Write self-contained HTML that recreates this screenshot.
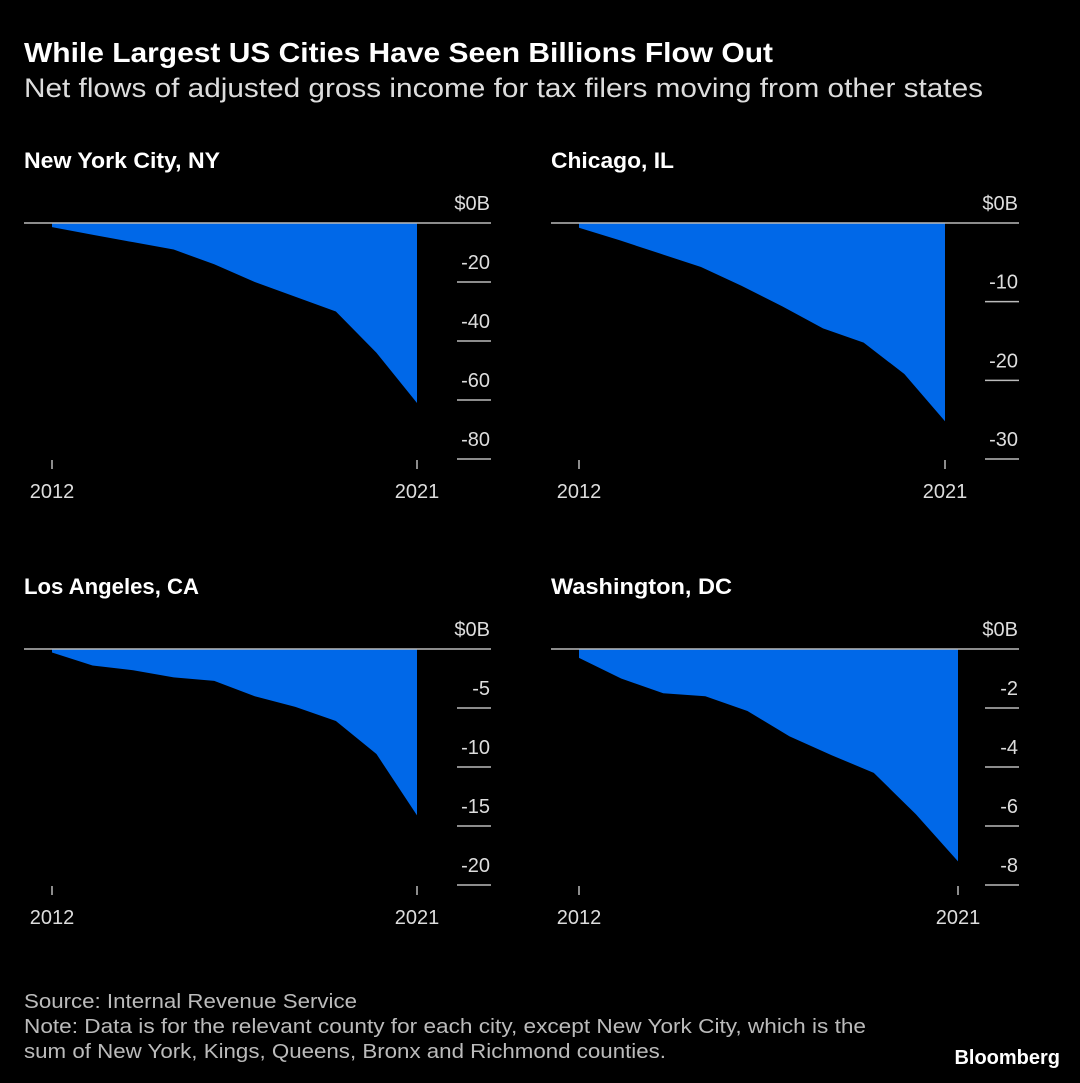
<!DOCTYPE html>
<html><head><meta charset="utf-8"><style>
body{margin:0;background:#000;width:1080px;height:1083px;overflow:hidden;font-family:"Liberation Sans",sans-serif;color:#fff}
</style></head><body>
<svg width="1080" height="1083" style="position:absolute;left:0;top:0">
<text x="24" y="62" font-size="28" font-weight="bold" fill="#fff" textLength="749" lengthAdjust="spacingAndGlyphs">While Largest US Cities Have Seen Billions Flow Out</text>
<text x="24" y="97" font-size="27" fill="#ddd" textLength="959" lengthAdjust="spacingAndGlyphs">Net flows of adjusted gross income for tax filers moving from other states</text>
<g id="panels"></g>
<text x="24" y="1008" font-size="20" fill="#bbb" textLength="333" lengthAdjust="spacingAndGlyphs">Source: Internal Revenue Service</text>
<text x="24" y="1033" font-size="20" fill="#bbb" textLength="842" lengthAdjust="spacingAndGlyphs">Note: Data is for the relevant county for each city, except New York City, which is the</text>
<text x="24" y="1058" font-size="20" fill="#bbb" textLength="642" lengthAdjust="spacingAndGlyphs">sum of New York, Kings, Queens, Bronx and Richmond counties.</text>
<text x="1060" y="1064" font-size="20" font-weight="bold" fill="#fff" text-anchor="end">Bloomberg</text>
</svg>
<script>
const years=[2012,2013,2014,2015,2016,2017,2018,2019,2020,2021];
const nycValues=[-1.4,-4,-6.5,-9,-14,-20,-25,-30,-44,-61];
const chiValues=[-0.6,-2.2,-3.9,-5.6,-8,-10.6,-13.4,-15.2,-19.2,-25.2];
const laValues=[-0.3,-1.4,-1.8,-2.4,-2.7,-4,-4.9,-6.1,-8.9,-14.1];
const dcValues=[-0.3,-1,-1.5,-1.6,-2.1,-2.96,-3.6,-4.2,-5.6,-7.2];
const nycTicks=[0,-20,-40,-60,-80];
const chiTicks=[0,-10,-20,-30];
const laTicks=[0,-5,-10,-15,-20];
const dcTicks=[0,-2,-4,-6,-8];
const titles=["New York City, NY","Chicago, IL","Los Angeles, CA","Washington, DC"];
const titleWidths=[196,123,175,181];
const NS="http://www.w3.org/2000/svg";
const root=document.getElementById('panels');
function mk(tag,attrs,parent){const e=document.createElementNS(NS,tag);for(const k in attrs)e.setAttribute(k,attrs[k]);parent.appendChild(e);return e;}
const cfg=[
 {vals:nycValues,ticks:nycTicks,oy:0,x0:52,x1:417,right:491,min:-80,tx:24},
 {vals:chiValues,ticks:chiTicks,oy:0,x0:579,x1:945,right:1019,min:-30,tx:551},
 {vals:laValues,ticks:laTicks,oy:426,x0:52,x1:417,right:491,min:-20,tx:24},
 {vals:dcValues,ticks:dcTicks,oy:426,x0:579,x1:958,right:1019,min:-8,tx:551}
];
cfg.forEach((c,i)=>{
 const g=mk('g',{},root);
 
 
 const zeroY=223+c.oy, botY=459+c.oy;
 const y=v=>zeroY+(v/c.min)*(botY-zeroY);
 const x=yr=>c.x0+(yr-years[0])/(years[years.length-1]-years[0])*(c.x1-c.x0);
 const t=mk('text',{x:c.tx,y:168+c.oy,'font-size':22,'font-weight':'bold',fill:'#fff',textLength:titleWidths[i],lengthAdjust:'spacingAndGlyphs'},g);t.textContent=titles[i];
 
 
 let d='M'+x(years[0])+','+zeroY;
 c.vals.forEach((v,j)=>{d+=' L'+x(years[j])+','+y(v);});
 d+=' L'+x(years[years.length-1])+','+zeroY+' Z';
 const a=mk('path',{d:d,fill:'#0068e8'},g);
 
 
 const zl=mk('line',{x1:c.tx,x2:c.right,y1:zeroY,y2:zeroY,stroke:'#bbb','stroke-width':1.5},g);
 
 
 c.ticks.forEach(tv=>{
  const ty=y(tv);
  if(tv!==0){const l=mk('line',{x1:c.right-34,x2:c.right,y1:ty,y2:ty,stroke:'#bbb','stroke-width':1.5},g);
   
   }
  const lb=mk('text',{x:c.right-1,y:ty-13,'font-size':20,fill:'#ddd','text-anchor':'end'},g);
  lb.textContent=tv===0?'$0B':String(tv);
  
  
 });
 [years[0],years[years.length-1]].forEach(yr=>{
  const tk=mk('line',{x1:x(yr),x2:x(yr),y1:botY+1,y2:botY+10,stroke:'#bbb','stroke-width':1.5},g);
  
  
  const lb=mk('text',{x:x(yr),y:botY+39,'font-size':20,fill:'#ddd','text-anchor':'middle'},g);
  lb.textContent=yr;
  
  
 });
});
</script>
</body></html>
